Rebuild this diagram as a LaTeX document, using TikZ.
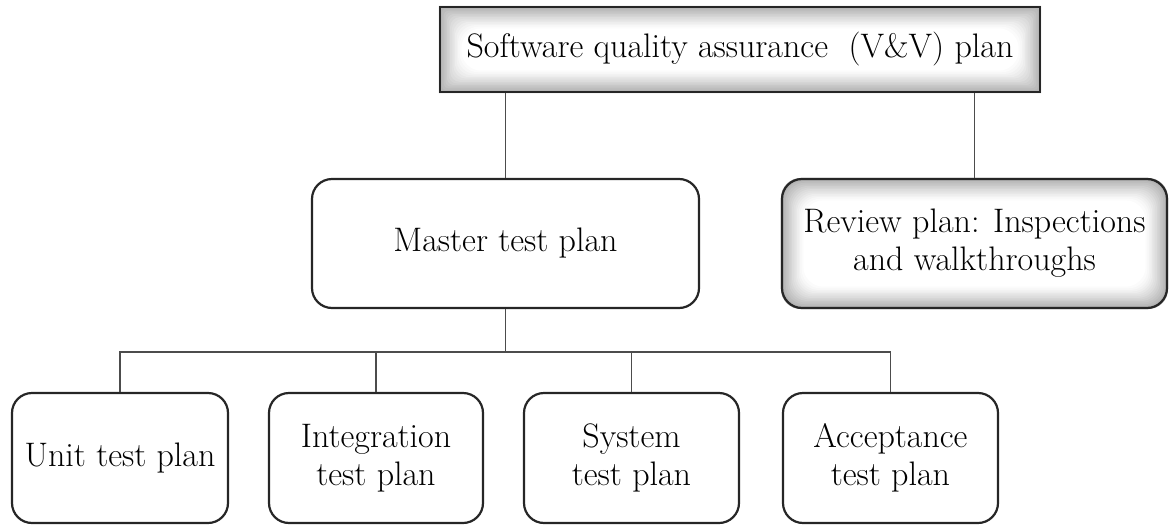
\documentclass[tikz,border=0pt]{standalone}
\usetikzlibrary{calc}
\pgfdeclarelayer{bg}
\pgfsetlayers{bg,main}
\tikzset{
  box/.style={draw=black!85, line width=2.2pt, rounded corners=20pt, align=center,
    font=\fontsize{34}{38}\selectfont, inner sep=0pt},
  conn/.style={draw=black!70, line width=1.9pt},
}
\newcommand\glowfill[2]{%
  \begin{pgfonlayer}{bg}
  \foreach \i in {0,...,14}{
    \pgfmathsetmacro\c{32*(1-\i/14)^1.2}
    \pgfmathsetmacro\d{\i*1.6}
    \pgfmathsetmacro\r{max(#2-\d,0)+\d*0.9+0.01}
    \fill[black!\c, rounded corners=\r pt] ($(#1.south west)+(\d,-\d)$) rectangle ($(#1.north east)+(-\d,\d)$);
  }
  \end{pgfonlayer}}
\begin{document}
\begin{tikzpicture}[x=1pt,y=-1pt]
\useasboundingbox (0,0) rectangle (1173,525);
\node[box, rounded corners=0pt, minimum width=600pt, minimum height=85pt] (top) at (740,49.5) {Software quality assurance\ \ (V\&V) plan};
\node[box, minimum width=387pt, minimum height=129pt] (master) at (505.5,243.5) {Master test plan};
\node[box, minimum width=385pt, minimum height=129pt] (review) at (974.5,243.5) {Review plan: Inspections\\and walkthroughs};
\node[box, minimum width=216pt, minimum height=130pt] (unit) at (120,458) {Unit test plan};
\node[box, minimum width=214pt, minimum height=130pt] (integ) at (376,458) {Integration\\test plan};
\node[box, minimum width=215pt, minimum height=130pt] (system) at (631.5,458) {System\\test plan};
\node[box, minimum width=215pt, minimum height=130pt] (accept) at (890.5,458) {Acceptance\\test plan};
\glowfill{top}{0}
\glowfill{review}{20}
\coordinate (bus) at (0,352);
\draw[conn] (top.south -| master.north) -- (master.north);
\draw[conn] (top.south -| review.north) -- (review.north);
\draw[conn] (master.south) -- (master.south |- bus);
\draw[conn] (unit.north) -- (unit.north |- bus) -| (accept.north);
\draw[conn] (integ.north) -- (integ.north |- bus);
\draw[conn] (system.north) -- (system.north |- bus);
\end{tikzpicture}
\end{document}
